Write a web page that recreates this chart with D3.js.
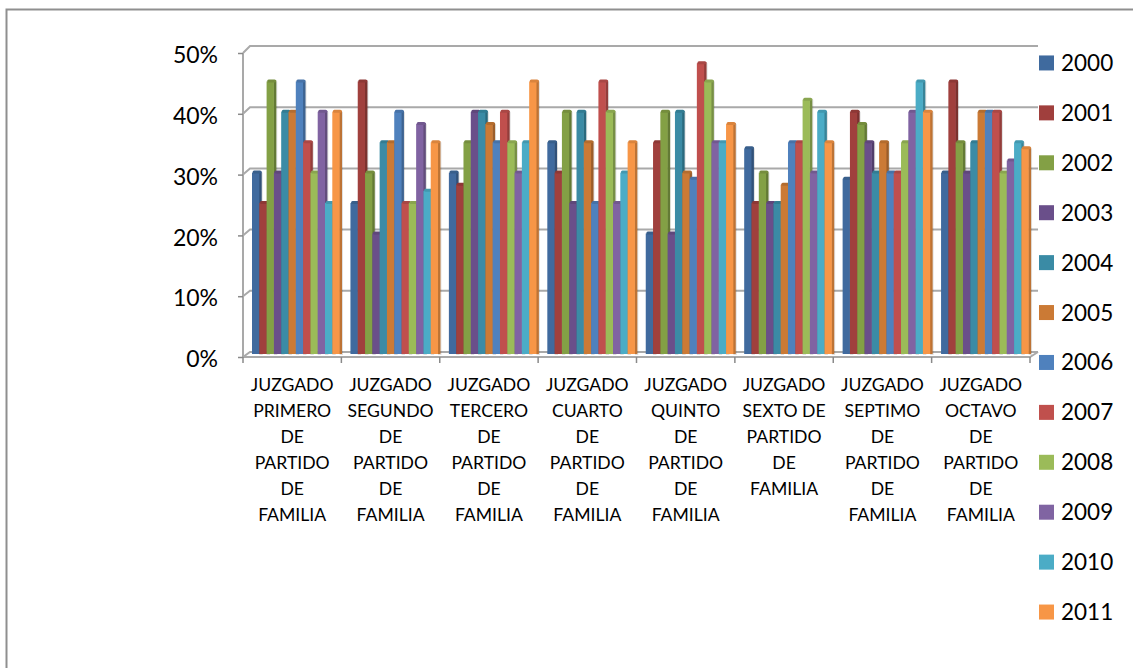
<!DOCTYPE html>
<html>
<head>
<meta charset="utf-8">
<script src="https://cdn.jsdelivr.net/npm/d3@7"></script>
<style>
    html, body { margin: 0; padding: 0; background: #fff; overflow: hidden; }
    text { font-family: Lato, "Noto Sans", sans-serif; fill: #000; }
</style>
</head>
<body>
<div id="chart"></div>
<script>
// Chart data
const juzgados = ["PRIMERO", "SEGUNDO", "TERCERO", "CUARTO", "QUINTO", "SEXTO", "SEPTIMO", "OCTAVO"];
const labelLines = [
    ["JUZGADO", "PRIMERO", "DE", "PARTIDO", "DE", "FAMILIA"],
    ["JUZGADO", "SEGUNDO", "DE", "PARTIDO", "DE", "FAMILIA"],
    ["JUZGADO", "TERCERO", "DE", "PARTIDO", "DE", "FAMILIA"],
    ["JUZGADO", "CUARTO", "DE", "PARTIDO", "DE", "FAMILIA"],
    ["JUZGADO", "QUINTO", "DE", "PARTIDO", "DE", "FAMILIA"],
    ["JUZGADO", "SEXTO DE", "PARTIDO", "DE", "FAMILIA"],
    ["JUZGADO", "SEPTIMO", "DE", "PARTIDO", "DE", "FAMILIA"],
    ["JUZGADO", "OCTAVO", "DE", "PARTIDO", "DE", "FAMILIA"]
];
const years = ["2000", "2001", "2002", "2003", "2004", "2005", "2006", "2007", "2008", "2009", "2010", "2011"];
const colors = ["#3f6a9e", "#a03f3d", "#83a045", "#6a4f8a", "#3a8ba5", "#cb7a35",
                "#4f81bd", "#c0504d", "#9bbb59", "#8064a2", "#4bacc6", "#f79646"];
const yTicks = [0, 10, 20, 30, 40, 50];

const primero = [30, 25, 45, 30, 40, 40, 45, 35, 30, 40, 25, 40];
const segundo = [25, 45, 30, 20, 35, 35, 40, 25, 25, 38, 27, 35];
const tercero = [30, 28, 35, 40, 40, 38, 35, 40, 35, 30, 35, 45];
const cuarto  = [35, 30, 40, 25, 40, 35, 25, 45, 40, 25, 30, 35];
const quinto  = [20, 35, 40, 20, 40, 30, 29, 48, 45, 35, 35, 38];
const sexto   = [34, 25, 30, 25, 25, 28, 35, 35, 42, 30, 40, 35];
const septimo = [29, 40, 38, 35, 30, 35, 30, 30, 35, 40, 45, 40];
const octavo  = [30, 45, 35, 30, 35, 40, 40, 40, 30, 32, 35, 34];
const values = [primero, segundo, tercero, cuarto, quinto, sexto, septimo, octavo];

const width = 1133;
const height = 668;

const svg = d3.select("#chart")
    .append("svg")
    .attr("width", width)
    .attr("height", height)
    .style("display", "block");

// The reference is a slightly soft screenshot
svg.append("defs").append("filter")
    .attr("id", "soft")
    .append("feGaussianBlur")
    .attr("stdDeviation", 0.45);

// Outer frame: only top and left show in the picture
svg.append("path")
    .attr("d", `M6.5,${height} V9.5 H${width}`)
    .attr("fill", "none")
    .attr("stroke", "#8f8f8f")
    .attr("stroke-width", 2);

// The fake 3D box: front plane, back wall and the plane the bars stand on
const yFront = d3.scaleLinear().domain([0, 50]).range([357, 53]);
const yBack = d3.scaleLinear().domain([0, 50]).range([352, 46]);
const yBar = d3.scaleLinear().domain([0, 50]).range([354, 50]);
const xFront = d3.scaleBand().domain(juzgados).range([243, 1030]);
const xBack = d3.scaleBand().domain(juzgados).range([250, 1037.5]);
const xYear = d3.scaleBand().domain(years).range([2, 89.6]);

const gridColor = "#a9a9a9";
const grid = svg.append("g")
    .attr("fill", "none")
    .attr("stroke", gridColor)
    .attr("stroke-width", 2)
    .attr("filter", "url(#soft)");

yTicks.forEach(t => {
    grid.append("path")
        .attr("d", `M243,${yFront(t)} L250,${yBack(t)} H1038`);
});
grid.append("path").attr("d", `M243,${yFront(50)} V${yFront(0)} H1030 L1038,${yBack(0)}`);

// Y axis
const yAxis = d3.axisLeft(yFront)
    .tickValues(yTicks)
    .tickFormat(d => d + "%")
    .tickSize(5)
    .tickPadding(20);
const yG = svg.append("g").attr("transform", "translate(243,0)").call(yAxis);
yG.select(".domain").remove();
yG.selectAll("line").attr("stroke", "#8a8a8a").attr("stroke-width", 1.5);
yG.selectAll("text")
    .attr("dy", "0.42em")
    .style("font-size", "23px")
    .style("font-family", "Lato");

// X axis ticks sit between the categories
const xTickPos = juzgados.map(d => xFront(d)).concat([xFront.range()[1]]);
svg.append("g").selectAll("line")
    .data(xTickPos)
    .enter()
    .append("line")
    .attr("x1", d => d)
    .attr("x2", d => d)
    .attr("y1", 357)
    .attr("y2", 363)
    .attr("stroke", "#8a8a8a")
    .attr("stroke-width", 1.5);

// Bars, left to right so that each one hides the side of the previous one
const barW = xYear.bandwidth();
const sideW = 2.4;
const groups = svg.append("g")
    .attr("filter", "url(#soft)")
    .selectAll("g")
    .data(values)
    .enter()
    .append("g")
    .attr("transform", (d, i) => `translate(${xBack(juzgados[i])},0)`);

const bars = groups.selectAll("g")
    .data(d => d.map((v, i) => ({ v: v, year: years[i], color: colors[i] })))
    .enter()
    .append("g");

// soft shadow on the right
bars.append("rect")
    .attr("x", d => xYear(d.year) + barW)
    .attr("y", d => yBar(d.v) + 1)
    .attr("width", sideW + 1)
    .attr("height", d => yBar(0) - yBar(d.v))
    .attr("fill", "#000")
    .attr("opacity", 0.12);

// side face
bars.append("rect")
    .attr("x", d => xYear(d.year) + barW - 0.5)
    .attr("y", d => yBar(d.v))
    .attr("width", sideW + 0.5)
    .attr("height", d => yBar(0) - yBar(d.v))
    .attr("fill", d => d3.color(d.color).darker(0.75));

// front face
bars.append("rect")
    .attr("x", d => xYear(d.year))
    .attr("y", d => yBar(d.v) + 1)
    .attr("width", barW)
    .attr("height", d => yBar(0) - yBar(d.v) - 1)
    .attr("fill", d => d.color);

// top cap
bars.append("rect")
    .attr("x", d => xYear(d.year) + 0.6)
    .attr("y", d => yBar(d.v) - 1)
    .attr("width", barW + sideW - 0.8)
    .attr("height", 3)
    .attr("rx", 1.5)
    .attr("fill", d => d3.color(d.color).darker(0.35));

// Category labels
const catLabels = svg.append("g").selectAll("text")
    .data(labelLines)
    .enter()
    .append("text")
    .attr("text-anchor", "middle")
    .style("font-size", "17.6px");

catLabels.selectAll("tspan")
    .data((d, i) => d.map(line => ({ line: line, cat: juzgados[i] })))
    .enter()
    .append("tspan")
    .attr("x", d => xFront(d.cat) + xFront.bandwidth() / 2)
    .attr("y", (d, i) => 391 + i * 26)
    .text(d => d.line);

// Legend
const yLegend = d3.scaleBand().domain(years).range([38, 637]);
const legend = svg.append("g").selectAll("g")
    .data(years)
    .enter()
    .append("g")
    .attr("transform", d => `translate(1039,${yLegend(d) + yLegend.bandwidth() / 2})`);

legend.append("rect")
    .attr("x", 0)
    .attr("y", -7.5)
    .attr("width", 15)
    .attr("height", 15)
    .attr("fill", (d, i) => colors[i]);

legend.append("text")
    .attr("x", 22)
    .attr("y", 8)
    .style("font-size", "22.5px")
    .text(d => d);
</script>
</body>
</html>
